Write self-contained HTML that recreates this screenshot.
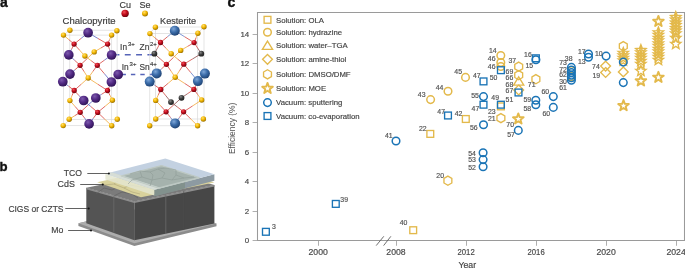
<!DOCTYPE html>
<html><head><meta charset="utf-8"><style>
html,body{margin:0;padding:0;background:#fff;width:685px;height:268px;overflow:hidden}
svg{display:block;will-change:transform}
text{font-family:"Liberation Sans", sans-serif}
</style></head><body>
<svg width="685" height="268" viewBox="0 0 685 268">
<defs>
<radialGradient id="gP" cx="0.38" cy="0.32" r="0.7"><stop offset="0" stop-color="#7d5aad"/><stop offset="0.5" stop-color="#522a84"/><stop offset="1" stop-color="#2f1455"/></radialGradient>
<radialGradient id="gB" cx="0.38" cy="0.32" r="0.7"><stop offset="0" stop-color="#7fa7d8"/><stop offset="0.5" stop-color="#3a6ba8"/><stop offset="1" stop-color="#1f4272"/></radialGradient>
<radialGradient id="gR" cx="0.38" cy="0.32" r="0.7"><stop offset="0" stop-color="#f05058"/><stop offset="0.5" stop-color="#c20a1a"/><stop offset="1" stop-color="#6a0610"/></radialGradient>
<radialGradient id="gY" cx="0.38" cy="0.32" r="0.7"><stop offset="0" stop-color="#ffe070"/><stop offset="0.5" stop-color="#f2b600"/><stop offset="1" stop-color="#9a7000"/></radialGradient>
<radialGradient id="gK" cx="0.38" cy="0.32" r="0.7"><stop offset="0" stop-color="#8a8a8a"/><stop offset="0.5" stop-color="#3c3c3c"/><stop offset="1" stop-color="#1e1e1e"/></radialGradient>
</defs>
<text x="0.00" y="7.10" font-size="14" text-anchor="start" fill="#111" font-weight="bold" stroke="#111" stroke-width="0.35">a</text>
<text x="227.50" y="7.10" font-size="14" text-anchor="start" fill="#111" font-weight="bold" stroke="#111" stroke-width="0.35">c</text>
<text x="-0.60" y="171.40" font-size="13.2" text-anchor="start" fill="#111" font-weight="bold" stroke="#111" stroke-width="0.35">b</text>
<text x="119.50" y="7.80" font-size="9.0" text-anchor="start" fill="#3e3e3e" font-weight="normal"  stroke="#3e3e3e" stroke-width="0.18">Cu</text>
<text x="139.50" y="7.80" font-size="9.0" text-anchor="start" fill="#3e3e3e" font-weight="normal"  stroke="#3e3e3e" stroke-width="0.18">Se</text>
<circle cx="125.1" cy="13.4" r="3.7" fill="url(#gR)"/>
<circle cx="145" cy="13.4" r="3" fill="url(#gY)"/>
<text x="62.60" y="24.00" font-size="9.55" text-anchor="start" fill="#3e3e3e" font-weight="normal"  stroke="#3e3e3e" stroke-width="0.18">Chalcopyrite</text>
<text x="160.10" y="23.90" font-size="9.15" text-anchor="start" fill="#3e3e3e" font-weight="normal"  stroke="#3e3e3e" stroke-width="0.18">Kesterite</text>
<line x1="113.5" y1="54.7" x2="153" y2="54.7" stroke="#5664b8" stroke-width="1.6" stroke-dasharray="5.9 5.4"/>
<line x1="121.5" y1="74.4" x2="153" y2="74.4" stroke="#5664b8" stroke-width="1.5" stroke-dasharray="4.4 5"/>
<g stroke="#d9d9d9" stroke-width="0.7" fill="none">
<rect x="63.4" y="35.1" width="48.300000000000004" height="90.6"/>
<rect x="69.8" y="30.2" width="47.3" height="89.1"/>
<line x1="63.4" y1="35.1" x2="69.8" y2="30.2"/>
<line x1="111.7" y1="35.1" x2="117.1" y2="30.2"/>
<line x1="63.4" y1="125.7" x2="69.8" y2="119.3"/>
<line x1="111.7" y1="125.7" x2="117.1" y2="119.3"/>
</g>
<g stroke-width="0.8">
<line x1="74.1" y1="44.1" x2="68.80" y2="39.60" stroke="#d8443c"/>
<line x1="68.80" y1="39.60" x2="63.5" y2="35.1" stroke="#f2a93a"/>
<line x1="74.1" y1="44.1" x2="81.10" y2="38.40" stroke="#d8443c"/>
<line x1="81.10" y1="38.40" x2="88.1" y2="32.7" stroke="#5a62c0"/>
<line x1="74.1" y1="44.1" x2="79.50" y2="50.05" stroke="#d8443c"/>
<line x1="79.50" y1="50.05" x2="84.9" y2="56" stroke="#f2a93a"/>
<line x1="74.1" y1="44.1" x2="71.45" y2="49.50" stroke="#d8443c"/>
<line x1="71.45" y1="49.50" x2="68.8" y2="54.9" stroke="#5a62c0"/>
<line x1="107.6" y1="44.1" x2="109.60" y2="39.60" stroke="#d8443c"/>
<line x1="109.60" y1="39.60" x2="111.6" y2="35.1" stroke="#f2a93a"/>
<line x1="107.6" y1="44.1" x2="97.85" y2="38.40" stroke="#d8443c"/>
<line x1="97.85" y1="38.40" x2="88.1" y2="32.7" stroke="#5a62c0"/>
<line x1="107.6" y1="44.1" x2="100.90" y2="48.00" stroke="#d8443c"/>
<line x1="100.90" y1="48.00" x2="94.2" y2="51.9" stroke="#f2a93a"/>
<line x1="107.6" y1="44.1" x2="109.60" y2="49.55" stroke="#d8443c"/>
<line x1="109.60" y1="49.55" x2="111.6" y2="55" stroke="#5a62c0"/>
<line x1="80.1" y1="65.3" x2="74.45" y2="60.10" stroke="#d8443c"/>
<line x1="74.45" y1="60.10" x2="68.8" y2="54.9" stroke="#5a62c0"/>
<line x1="80.1" y1="65.3" x2="87.15" y2="58.60" stroke="#d8443c"/>
<line x1="87.15" y1="58.60" x2="94.2" y2="51.9" stroke="#f2a93a"/>
<line x1="80.1" y1="65.3" x2="75.05" y2="69.70" stroke="#d8443c"/>
<line x1="75.05" y1="69.70" x2="70" y2="74.1" stroke="#5a62c0"/>
<line x1="80.1" y1="65.3" x2="84.15" y2="71.65" stroke="#d8443c"/>
<line x1="84.15" y1="71.65" x2="88.2" y2="78" stroke="#f2a93a"/>
<line x1="97.3" y1="65.3" x2="91.10" y2="60.65" stroke="#d8443c"/>
<line x1="91.10" y1="60.65" x2="84.9" y2="56" stroke="#f2a93a"/>
<line x1="97.3" y1="65.3" x2="104.45" y2="60.15" stroke="#d8443c"/>
<line x1="104.45" y1="60.15" x2="111.6" y2="55" stroke="#5a62c0"/>
<line x1="97.3" y1="65.3" x2="92.75" y2="71.65" stroke="#d8443c"/>
<line x1="92.75" y1="71.65" x2="88.2" y2="78" stroke="#f2a93a"/>
<line x1="97.3" y1="65.3" x2="104.35" y2="73.65" stroke="#d8443c"/>
<line x1="104.35" y1="73.65" x2="111.4" y2="82" stroke="#5a62c0"/>
<line x1="74.2" y1="90.5" x2="68.50" y2="86.10" stroke="#d8443c"/>
<line x1="68.50" y1="86.10" x2="62.8" y2="81.7" stroke="#5a62c0"/>
<line x1="74.2" y1="90.5" x2="81.20" y2="84.25" stroke="#d8443c"/>
<line x1="81.20" y1="84.25" x2="88.2" y2="78" stroke="#f2a93a"/>
<line x1="74.2" y1="90.5" x2="72.05" y2="95.55" stroke="#d8443c"/>
<line x1="72.05" y1="95.55" x2="69.9" y2="100.6" stroke="#f2a93a"/>
<line x1="74.2" y1="90.5" x2="78.95" y2="95.50" stroke="#d8443c"/>
<line x1="78.95" y1="95.50" x2="83.7" y2="100.5" stroke="#5a62c0"/>
<line x1="107.5" y1="90.5" x2="109.45" y2="86.25" stroke="#d8443c"/>
<line x1="109.45" y1="86.25" x2="111.4" y2="82" stroke="#5a62c0"/>
<line x1="107.5" y1="90.5" x2="97.85" y2="84.25" stroke="#d8443c"/>
<line x1="97.85" y1="84.25" x2="88.2" y2="78" stroke="#f2a93a"/>
<line x1="107.5" y1="90.5" x2="101.65" y2="94.25" stroke="#d8443c"/>
<line x1="101.65" y1="94.25" x2="95.8" y2="98" stroke="#5a62c0"/>
<line x1="107.5" y1="90.5" x2="109.95" y2="95.35" stroke="#d8443c"/>
<line x1="109.95" y1="95.35" x2="112.4" y2="100.2" stroke="#f2a93a"/>
<line x1="80.2" y1="112.3" x2="75.05" y2="106.45" stroke="#d8443c"/>
<line x1="75.05" y1="106.45" x2="69.9" y2="100.6" stroke="#f2a93a"/>
<line x1="80.2" y1="112.3" x2="88.00" y2="105.15" stroke="#d8443c"/>
<line x1="88.00" y1="105.15" x2="95.8" y2="98" stroke="#5a62c0"/>
<line x1="80.2" y1="112.3" x2="74.70" y2="115.75" stroke="#d8443c"/>
<line x1="74.70" y1="115.75" x2="69.2" y2="119.2" stroke="#f2a93a"/>
<line x1="80.2" y1="112.3" x2="84.65" y2="118.10" stroke="#d8443c"/>
<line x1="84.65" y1="118.10" x2="89.1" y2="123.9" stroke="#5a62c0"/>
<line x1="97.7" y1="112.4" x2="90.70" y2="106.45" stroke="#d8443c"/>
<line x1="90.70" y1="106.45" x2="83.7" y2="100.5" stroke="#5a62c0"/>
<line x1="97.7" y1="112.4" x2="105.05" y2="106.30" stroke="#d8443c"/>
<line x1="105.05" y1="106.30" x2="112.4" y2="100.2" stroke="#f2a93a"/>
<line x1="97.7" y1="112.4" x2="104.70" y2="119.10" stroke="#d8443c"/>
<line x1="104.70" y1="119.10" x2="111.7" y2="125.8" stroke="#f2a93a"/>
<line x1="97.7" y1="112.4" x2="93.40" y2="118.15" stroke="#d8443c"/>
<line x1="93.40" y1="118.15" x2="89.1" y2="123.9" stroke="#5a62c0"/>
</g>
<circle cx="63.5" cy="35.1" r="2.7" fill="url(#gY)"/>
<circle cx="69.9" cy="30.2" r="2.7" fill="url(#gY)"/>
<circle cx="111.6" cy="35.1" r="2.7" fill="url(#gY)"/>
<circle cx="116.9" cy="30.7" r="2.7" fill="url(#gY)"/>
<circle cx="94.2" cy="51.9" r="2.7" fill="url(#gY)"/>
<circle cx="84.9" cy="56" r="2.7" fill="url(#gY)"/>
<circle cx="88.2" cy="78" r="2.7" fill="url(#gY)"/>
<circle cx="69.9" cy="100.6" r="2.7" fill="url(#gY)"/>
<circle cx="112.4" cy="100.2" r="2.7" fill="url(#gY)"/>
<circle cx="69.2" cy="119.2" r="2.7" fill="url(#gY)"/>
<circle cx="63.2" cy="125.6" r="2.7" fill="url(#gY)"/>
<circle cx="117.3" cy="119.3" r="2.7" fill="url(#gY)"/>
<circle cx="111.7" cy="125.8" r="2.7" fill="url(#gY)"/>
<circle cx="74.1" cy="44.1" r="2.65" fill="url(#gR)"/>
<circle cx="107.6" cy="44.1" r="2.65" fill="url(#gR)"/>
<circle cx="80.1" cy="65.3" r="2.65" fill="url(#gR)"/>
<circle cx="97.3" cy="65.3" r="2.65" fill="url(#gR)"/>
<circle cx="74.2" cy="90.5" r="2.65" fill="url(#gR)"/>
<circle cx="107.5" cy="90.5" r="2.65" fill="url(#gR)"/>
<circle cx="80.2" cy="112.3" r="2.65" fill="url(#gR)"/>
<circle cx="97.7" cy="112.4" r="2.65" fill="url(#gR)"/>
<circle cx="88.1" cy="32.7" r="4.85" fill="url(#gP)"/>
<circle cx="68.8" cy="54.9" r="4.85" fill="url(#gP)"/>
<circle cx="111.6" cy="55" r="4.85" fill="url(#gP)"/>
<circle cx="70" cy="74.1" r="4.85" fill="url(#gP)"/>
<circle cx="118.2" cy="74.5" r="4.85" fill="url(#gP)"/>
<circle cx="62.8" cy="81.7" r="4.85" fill="url(#gP)"/>
<circle cx="111.4" cy="82" r="4.85" fill="url(#gP)"/>
<circle cx="83.7" cy="100.5" r="4.85" fill="url(#gP)"/>
<circle cx="95.8" cy="98" r="4.85" fill="url(#gP)"/>
<circle cx="89.1" cy="123.9" r="4.85" fill="url(#gP)"/>
<g stroke="#d9d9d9" stroke-width="0.7" fill="none">
<rect x="149.8" y="33.4" width="47.89999999999998" height="92.4"/>
<rect x="155.5" y="27" width="48.5" height="92"/>
<line x1="149.8" y1="33.4" x2="155.5" y2="27"/>
<line x1="197.7" y1="33.4" x2="204" y2="27"/>
<line x1="149.8" y1="125.8" x2="155.5" y2="119"/>
<line x1="197.7" y1="125.8" x2="204" y2="119"/>
</g>
<g stroke-width="0.8">
<line x1="160.5" y1="42.5" x2="155.20" y2="38.05" stroke="#d8443c"/>
<line x1="155.20" y1="38.05" x2="149.9" y2="33.6" stroke="#f2a93a"/>
<line x1="160.5" y1="42.5" x2="167.65" y2="36.60" stroke="#d8443c"/>
<line x1="167.65" y1="36.60" x2="174.8" y2="30.7" stroke="#5a7ac8"/>
<line x1="160.5" y1="42.5" x2="165.85" y2="48.10" stroke="#d8443c"/>
<line x1="165.85" y1="48.10" x2="171.2" y2="53.7" stroke="#f2a93a"/>
<line x1="160.5" y1="42.5" x2="157.45" y2="48.10" stroke="#d8443c"/>
<line x1="157.45" y1="48.10" x2="154.4" y2="53.7" stroke="#8a4a4a"/>
<line x1="194.1" y1="42.6" x2="196.00" y2="37.90" stroke="#d8443c"/>
<line x1="196.00" y1="37.90" x2="197.9" y2="33.2" stroke="#f2a93a"/>
<line x1="194.1" y1="42.6" x2="184.45" y2="36.65" stroke="#d8443c"/>
<line x1="184.45" y1="36.65" x2="174.8" y2="30.7" stroke="#5a7ac8"/>
<line x1="194.1" y1="42.6" x2="187.40" y2="46.50" stroke="#d8443c"/>
<line x1="187.40" y1="46.50" x2="180.7" y2="50.4" stroke="#f2a93a"/>
<line x1="194.1" y1="42.6" x2="197.70" y2="48.15" stroke="#d8443c"/>
<line x1="197.70" y1="48.15" x2="201.3" y2="53.7" stroke="#8a4a4a"/>
<line x1="166.4" y1="64.3" x2="160.40" y2="59.00" stroke="#d8443c"/>
<line x1="160.40" y1="59.00" x2="154.4" y2="53.7" stroke="#8a4a4a"/>
<line x1="166.4" y1="64.3" x2="173.55" y2="57.35" stroke="#d8443c"/>
<line x1="173.55" y1="57.35" x2="180.7" y2="50.4" stroke="#f2a93a"/>
<line x1="166.4" y1="64.3" x2="161.55" y2="68.85" stroke="#d8443c"/>
<line x1="161.55" y1="68.85" x2="156.7" y2="73.4" stroke="#5a7ac8"/>
<line x1="166.4" y1="64.3" x2="170.80" y2="70.80" stroke="#d8443c"/>
<line x1="170.80" y1="70.80" x2="175.2" y2="77.3" stroke="#f2a93a"/>
<line x1="183.8" y1="64.2" x2="177.50" y2="58.95" stroke="#d8443c"/>
<line x1="177.50" y1="58.95" x2="171.2" y2="53.7" stroke="#f2a93a"/>
<line x1="183.8" y1="64.2" x2="192.55" y2="58.95" stroke="#d8443c"/>
<line x1="192.55" y1="58.95" x2="201.3" y2="53.7" stroke="#8a4a4a"/>
<line x1="183.8" y1="64.2" x2="179.50" y2="70.75" stroke="#d8443c"/>
<line x1="179.50" y1="70.75" x2="175.2" y2="77.3" stroke="#f2a93a"/>
<line x1="183.8" y1="64.2" x2="190.85" y2="72.65" stroke="#d8443c"/>
<line x1="190.85" y1="72.65" x2="197.9" y2="81.1" stroke="#5a7ac8"/>
<line x1="160.8" y1="89.5" x2="155.25" y2="85.55" stroke="#d8443c"/>
<line x1="155.25" y1="85.55" x2="149.7" y2="81.6" stroke="#5a7ac8"/>
<line x1="160.8" y1="89.5" x2="168.00" y2="83.40" stroke="#d8443c"/>
<line x1="168.00" y1="83.40" x2="175.2" y2="77.3" stroke="#f2a93a"/>
<line x1="160.8" y1="89.5" x2="158.25" y2="94.95" stroke="#d8443c"/>
<line x1="158.25" y1="94.95" x2="155.7" y2="100.4" stroke="#f2a93a"/>
<line x1="160.8" y1="89.5" x2="165.90" y2="95.80" stroke="#d8443c"/>
<line x1="165.90" y1="95.80" x2="171" y2="102.1" stroke="#8a4a4a"/>
<line x1="193.9" y1="89.4" x2="195.90" y2="85.25" stroke="#d8443c"/>
<line x1="195.90" y1="85.25" x2="197.9" y2="81.1" stroke="#5a7ac8"/>
<line x1="193.9" y1="89.4" x2="184.55" y2="83.35" stroke="#d8443c"/>
<line x1="184.55" y1="83.35" x2="175.2" y2="77.3" stroke="#f2a93a"/>
<line x1="193.9" y1="89.4" x2="187.70" y2="93.60" stroke="#d8443c"/>
<line x1="187.70" y1="93.60" x2="181.5" y2="97.8" stroke="#8a4a4a"/>
<line x1="193.9" y1="89.4" x2="197.80" y2="94.70" stroke="#d8443c"/>
<line x1="197.80" y1="94.70" x2="201.7" y2="100" stroke="#f2a93a"/>
<line x1="166.1" y1="111.8" x2="160.90" y2="106.10" stroke="#d8443c"/>
<line x1="160.90" y1="106.10" x2="155.7" y2="100.4" stroke="#f2a93a"/>
<line x1="166.1" y1="111.8" x2="173.80" y2="104.80" stroke="#d8443c"/>
<line x1="173.80" y1="104.80" x2="181.5" y2="97.8" stroke="#8a4a4a"/>
<line x1="166.1" y1="111.8" x2="160.90" y2="115.40" stroke="#d8443c"/>
<line x1="160.90" y1="115.40" x2="155.7" y2="119" stroke="#f2a93a"/>
<line x1="166.1" y1="111.8" x2="170.60" y2="117.60" stroke="#d8443c"/>
<line x1="170.60" y1="117.60" x2="175.1" y2="123.4" stroke="#5a7ac8"/>
<line x1="183.6" y1="111.8" x2="177.30" y2="106.95" stroke="#d8443c"/>
<line x1="177.30" y1="106.95" x2="171" y2="102.1" stroke="#8a4a4a"/>
<line x1="183.6" y1="111.8" x2="192.65" y2="105.90" stroke="#d8443c"/>
<line x1="192.65" y1="105.90" x2="201.7" y2="100" stroke="#f2a93a"/>
<line x1="183.6" y1="111.8" x2="190.60" y2="118.80" stroke="#d8443c"/>
<line x1="190.60" y1="118.80" x2="197.6" y2="125.8" stroke="#f2a93a"/>
<line x1="183.6" y1="111.8" x2="179.35" y2="117.60" stroke="#d8443c"/>
<line x1="179.35" y1="117.60" x2="175.1" y2="123.4" stroke="#5a7ac8"/>
</g>
<circle cx="155.4" cy="27.2" r="2.7" fill="url(#gY)"/>
<circle cx="149.9" cy="33.6" r="2.7" fill="url(#gY)"/>
<circle cx="204" cy="26.7" r="2.7" fill="url(#gY)"/>
<circle cx="197.9" cy="33.2" r="2.7" fill="url(#gY)"/>
<circle cx="171.2" cy="53.7" r="2.7" fill="url(#gY)"/>
<circle cx="180.7" cy="50.4" r="2.7" fill="url(#gY)"/>
<circle cx="175.2" cy="77.3" r="2.7" fill="url(#gY)"/>
<circle cx="155.7" cy="100.4" r="2.7" fill="url(#gY)"/>
<circle cx="201.7" cy="100" r="2.7" fill="url(#gY)"/>
<circle cx="155.7" cy="119" r="2.7" fill="url(#gY)"/>
<circle cx="203.4" cy="119" r="2.7" fill="url(#gY)"/>
<circle cx="149.7" cy="125.8" r="2.7" fill="url(#gY)"/>
<circle cx="197.6" cy="125.8" r="2.7" fill="url(#gY)"/>
<circle cx="160.5" cy="42.5" r="2.65" fill="url(#gR)"/>
<circle cx="194.1" cy="42.6" r="2.65" fill="url(#gR)"/>
<circle cx="166.4" cy="64.3" r="2.65" fill="url(#gR)"/>
<circle cx="183.8" cy="64.2" r="2.65" fill="url(#gR)"/>
<circle cx="160.8" cy="89.5" r="2.65" fill="url(#gR)"/>
<circle cx="193.9" cy="89.4" r="2.65" fill="url(#gR)"/>
<circle cx="166.1" cy="111.8" r="2.65" fill="url(#gR)"/>
<circle cx="183.6" cy="111.8" r="2.65" fill="url(#gR)"/>
<circle cx="154.4" cy="53.7" r="2.9" fill="url(#gK)"/>
<circle cx="201.3" cy="53.7" r="2.9" fill="url(#gK)"/>
<circle cx="171" cy="102.1" r="2.9" fill="url(#gK)"/>
<circle cx="181.5" cy="97.8" r="2.9" fill="url(#gK)"/>
<circle cx="174.8" cy="30.7" r="5.0" fill="url(#gB)"/>
<circle cx="156.7" cy="73.4" r="5.0" fill="url(#gB)"/>
<circle cx="149.7" cy="81.6" r="5.0" fill="url(#gB)"/>
<circle cx="204.9" cy="73.6" r="5.0" fill="url(#gB)"/>
<circle cx="197.9" cy="81.1" r="5.0" fill="url(#gB)"/>
<circle cx="175.1" cy="123.4" r="5.0" fill="url(#gB)"/>
<text x="120.10" y="49.70" font-size="8.3" text-anchor="start" fill="#444" font-weight="normal"  stroke="#444" stroke-width="0.18">In</text>
<text x="127.90" y="46.40" font-size="6.0" text-anchor="start" fill="#444" font-weight="normal"  stroke="#444" stroke-width="0.18">3+</text>
<text x="139.60" y="49.70" font-size="8.3" text-anchor="start" fill="#444" font-weight="normal"  stroke="#444" stroke-width="0.18">Zn</text>
<text x="150.00" y="46.40" font-size="6.0" text-anchor="start" fill="#444" font-weight="normal"  stroke="#444" stroke-width="0.18">2+</text>
<text x="121.80" y="69.60" font-size="8.3" text-anchor="start" fill="#444" font-weight="normal"  stroke="#444" stroke-width="0.18">In</text>
<text x="129.60" y="66.30" font-size="6.0" text-anchor="start" fill="#444" font-weight="normal"  stroke="#444" stroke-width="0.18">3+</text>
<text x="139.50" y="69.60" font-size="8.3" text-anchor="start" fill="#444" font-weight="normal"  stroke="#444" stroke-width="0.18">Sn</text>
<text x="150.00" y="66.30" font-size="6.0" text-anchor="start" fill="#444" font-weight="normal"  stroke="#444" stroke-width="0.18">4+</text>
<g>
<polygon points="78.4,223.3 150,206 216.5,223.6 216.5,226.2 134.4,245.9 78.4,225.9" fill="#8c8c8c"/>
<polygon points="78.4,223.3 150,206 216.5,223.6 134.4,243.3" fill="#adadad"/>
<polygon points="86.3,187.7 134.4,201.4 134.4,240.2 86.3,223.3" fill="#545454"/>
<polygon points="134.4,201.4 214.4,184.9 214.4,223.6 134.4,240.2" fill="#474747"/>
<polygon points="86.3,187.7 166.3,171.2 214.4,184.9 134.4,201.4" fill="#7b7b7b"/>
<polyline points="86.3,188.6 134.4,202.3 214.4,185.8" fill="none" stroke="#8e8e8e" stroke-width="1.6"/>
<line x1="113.8" y1="195.5" x2="113.8" y2="232.5" stroke="#6e6e6e" stroke-width="0.7"/>
<line x1="165.8" y1="195" x2="165.8" y2="233.8" stroke="#707070" stroke-width="0.7"/>
<line x1="183.7" y1="191.2" x2="183.7" y2="230" stroke="#4e4e4e" stroke-width="0.6"/>
<polyline points="96,194 104,188 112,190 120,186" fill="none" stroke="#5e5e5e" stroke-width="0.6"/>
<polyline points="113.8,196 122,192 132,194 138,198" fill="none" stroke="#5e5e5e" stroke-width="0.6"/>
<polygon points="97.2,182.3 166.3,166.8 214.4,182.4 141,197.3" fill="#d9d29c"/>
<polyline points="104,185 114,184 124,188 132,192 140,194" fill="none" stroke="#a8a074" stroke-width="0.55"/>
<polyline points="114,184 118,181" fill="none" stroke="#a8a074" stroke-width="0.55"/>
<polyline points="124,188 130,185 146,188" fill="none" stroke="#a8a074" stroke-width="0.55"/>
<polygon points="105.4,173.8 154.5,189.7 154.5,195.5 105.4,179.6" fill="#e4e6d0" opacity="0.85"/>
<polygon points="154.5,189.7 214.4,174.3 214.4,180.8 154.5,196.2" fill="#8d9aa2"/>
<polygon points="154.5,189.7 185,181.9 185,188.4 154.5,196.2" fill="#7f8e88" opacity="0.8"/>
<polygon points="105.4,173.8 165.3,158.4 214.4,174.3 154.5,189.7" fill="#c3d1e1"/>
<polygon points="105.4,173.8 154.5,189.7 160.8,188.1 111.7,172.2" fill="#d6ddd6"/>
<polygon points="121.5,175.9 161.5,165.6 199.0,177.7 159.0,188.0" fill="#a5b2ad" stroke="#bdc8c3" stroke-width="1.4" stroke-linejoin="round"/>
<polygon points="111.7,172.2 121.5,175.9 159.0,188.0 160.8,188.1" fill="#c8d2cc"/>
<g fill="none" stroke="#8e9c97" stroke-width="0.6">
<polyline points="130,174 140,171 150,172 158,169 166,168 176,170"/>
<polyline points="140,171 142,177 152,180 162,178 172,180 184,178 194,177"/>
<polyline points="150,172 153,175 152,180"/>
<polyline points="162,178 165,173 158,169"/>
<polyline points="172,180 176,175 184,178"/>
<polyline points="142,177 132,180 128,184"/>
<polyline points="176,175 176,170"/>
<polyline points="152,180 150,186"/>
</g>
</g>
<text x="63.80" y="176.10" font-size="9.0" text-anchor="start" fill="#444" font-weight="normal"  textLength="18.2" lengthAdjust="spacingAndGlyphs" stroke="#444" stroke-width="0.18">TCO</text>
<text x="57.60" y="187.30" font-size="9.0" text-anchor="start" fill="#444" font-weight="normal"  textLength="17.3" lengthAdjust="spacingAndGlyphs" stroke="#444" stroke-width="0.18">CdS</text>
<text x="8.40" y="211.80" font-size="9.0" text-anchor="start" fill="#444" font-weight="normal"  textLength="55.1" lengthAdjust="spacingAndGlyphs" stroke="#444" stroke-width="0.18">CIGS or CZTS</text>
<text x="51.20" y="233.20" font-size="8.5" text-anchor="start" fill="#444" font-weight="normal"  textLength="12.1" lengthAdjust="spacingAndGlyphs" stroke="#444" stroke-width="0.18">Mo</text>
<g stroke="#3a3a3a" stroke-width="0.8">
<line x1="87.3" y1="173.5" x2="108.9" y2="173.5"/><line x1="80.2" y1="184.5" x2="102.8" y2="184.5"/>
<line x1="65.3" y1="208.5" x2="88.7" y2="208.5"/><line x1="68.1" y1="230.5" x2="91" y2="230.5"/>
</g>
<circle cx="108.9" cy="173.5" r="1" fill="#111"/>
<circle cx="102.8" cy="184.5" r="1" fill="#111"/>
<circle cx="88.7" cy="208.5" r="1" fill="#111"/>
<circle cx="91" cy="230.5" r="1" fill="#111"/>
<path d="M257.5,12.5 H684.5 V240.5 H257.5 Z" fill="none" stroke="#9a9a9a" stroke-width="1.05"/>
<line x1="252.6" y1="240.50" x2="257.5" y2="240.50" stroke="#9a9a9a" stroke-width="0.8"/>
<text x="249.20" y="243.45" font-size="7.9" text-anchor="end" fill="#4a4a4a" font-weight="normal"  stroke="#4a4a4a" stroke-width="0.18">0</text>
<line x1="252.6" y1="211.50" x2="257.5" y2="211.50" stroke="#9a9a9a" stroke-width="0.8"/>
<text x="249.20" y="213.95" font-size="7.9" text-anchor="end" fill="#4a4a4a" font-weight="normal"  stroke="#4a4a4a" stroke-width="0.18">2</text>
<line x1="252.6" y1="181.50" x2="257.5" y2="181.50" stroke="#9a9a9a" stroke-width="0.8"/>
<text x="249.20" y="184.45" font-size="7.9" text-anchor="end" fill="#4a4a4a" font-weight="normal"  stroke="#4a4a4a" stroke-width="0.18">4</text>
<line x1="252.6" y1="152.50" x2="257.5" y2="152.50" stroke="#9a9a9a" stroke-width="0.8"/>
<text x="249.20" y="154.95" font-size="7.9" text-anchor="end" fill="#4a4a4a" font-weight="normal"  stroke="#4a4a4a" stroke-width="0.18">6</text>
<line x1="252.6" y1="122.50" x2="257.5" y2="122.50" stroke="#9a9a9a" stroke-width="0.8"/>
<text x="249.20" y="125.45" font-size="7.9" text-anchor="end" fill="#4a4a4a" font-weight="normal"  stroke="#4a4a4a" stroke-width="0.18">8</text>
<line x1="252.6" y1="93.50" x2="257.5" y2="93.50" stroke="#9a9a9a" stroke-width="0.8"/>
<text x="249.20" y="95.95" font-size="7.9" text-anchor="end" fill="#4a4a4a" font-weight="normal"  stroke="#4a4a4a" stroke-width="0.18">10</text>
<line x1="252.6" y1="63.50" x2="257.5" y2="63.50" stroke="#9a9a9a" stroke-width="0.8"/>
<text x="249.20" y="66.45" font-size="7.9" text-anchor="end" fill="#4a4a4a" font-weight="normal"  stroke="#4a4a4a" stroke-width="0.18">12</text>
<line x1="252.6" y1="34.50" x2="257.5" y2="34.50" stroke="#9a9a9a" stroke-width="0.8"/>
<text x="249.20" y="36.95" font-size="7.9" text-anchor="end" fill="#4a4a4a" font-weight="normal"  stroke="#4a4a4a" stroke-width="0.18">14</text>
<line x1="318.5" y1="240.5" x2="318.5" y2="245.8" stroke="#9a9a9a" stroke-width="0.8"/>
<text x="318.20" y="255.10" font-size="8.3" text-anchor="middle" fill="#4a4a4a" font-weight="normal"  textLength="19.3" lengthAdjust="spacingAndGlyphs" stroke="#4a4a4a" stroke-width="0.18">2000</text>
<line x1="396.5" y1="240.5" x2="396.5" y2="245.8" stroke="#9a9a9a" stroke-width="0.8"/>
<text x="396.00" y="255.10" font-size="8.3" text-anchor="middle" fill="#4a4a4a" font-weight="normal"  textLength="19.3" lengthAdjust="spacingAndGlyphs" stroke="#4a4a4a" stroke-width="0.18">2008</text>
<line x1="466.5" y1="240.5" x2="466.5" y2="245.8" stroke="#9a9a9a" stroke-width="0.8"/>
<text x="466.10" y="255.10" font-size="8.3" text-anchor="middle" fill="#4a4a4a" font-weight="normal"  textLength="17.2" lengthAdjust="spacingAndGlyphs" stroke="#4a4a4a" stroke-width="0.18">2012</text>
<line x1="536.5" y1="240.5" x2="536.5" y2="245.8" stroke="#9a9a9a" stroke-width="0.8"/>
<text x="536.10" y="255.10" font-size="8.3" text-anchor="middle" fill="#4a4a4a" font-weight="normal"  textLength="17.2" lengthAdjust="spacingAndGlyphs" stroke="#4a4a4a" stroke-width="0.18">2016</text>
<line x1="606.5" y1="240.5" x2="606.5" y2="245.8" stroke="#9a9a9a" stroke-width="0.8"/>
<text x="606.10" y="255.10" font-size="8.3" text-anchor="middle" fill="#4a4a4a" font-weight="normal"  textLength="19.3" lengthAdjust="spacingAndGlyphs" stroke="#4a4a4a" stroke-width="0.18">2020</text>
<line x1="676.5" y1="240.5" x2="676.5" y2="245.8" stroke="#9a9a9a" stroke-width="0.8"/>
<text x="676.10" y="255.10" font-size="8.3" text-anchor="middle" fill="#4a4a4a" font-weight="normal"  textLength="19.3" lengthAdjust="spacingAndGlyphs" stroke="#4a4a4a" stroke-width="0.18">2024</text>
<line x1="376.2" y1="245.6" x2="383.8" y2="236.3" stroke="#606060" stroke-width="0.9"/>
<line x1="383.6" y1="245.6" x2="390.9" y2="236.3" stroke="#606060" stroke-width="0.9"/>
<text x="467.30" y="267.80" font-size="8.6" text-anchor="middle" fill="#444" font-weight="normal"  textLength="17.6" lengthAdjust="spacingAndGlyphs" stroke="#444" stroke-width="0.18">Year</text>
<text x="0.00" y="0.00" font-size="8.45" text-anchor="middle" fill="#505050" font-weight="normal" stroke="none" transform="translate(235.3,128.4) rotate(-90)">Efficiency (%)</text>
<rect x="264.10" y="16.40" width="6.80" height="6.80" fill="none" stroke="#e3b94b" stroke-width="1.35"/>
<text x="276.10" y="22.60" font-size="7.75" text-anchor="start" fill="#444" font-weight="normal"  stroke="#444" stroke-width="0.18">Solution: OLA</text>
<circle cx="267.50" cy="32.30" r="3.8" fill="none" stroke="#e3b94b" stroke-width="1.5"/>
<text x="276.10" y="35.10" font-size="7.75" text-anchor="start" fill="#444" font-weight="normal"  stroke="#444" stroke-width="0.18">Solution: hydrazine</text>
<path d="M267.50,41.10 L272.60,49.30 L262.40,49.30Z" fill="none" stroke="#e3b94b" stroke-width="1.35" stroke-linejoin="miter"/>
<text x="276.10" y="48.20" font-size="7.75" text-anchor="start" fill="#444" font-weight="normal"  stroke="#444" stroke-width="0.18">Solution: water–TGA</text>
<path d="M267.50,54.40 L272.40,59.30 L267.50,64.20 L262.60,59.30Z" fill="none" stroke="#e3b94b" stroke-width="1.35"/>
<text x="276.10" y="62.10" font-size="7.75" text-anchor="start" fill="#444" font-weight="normal"  stroke="#444" stroke-width="0.18">Solution: amine-thiol</text>
<path d="M267.50,69.75 L271.44,72.02 L271.44,76.58 L267.50,78.85 L263.56,76.58 L263.56,72.02Z" fill="none" stroke="#e3b94b" stroke-width="1.35"/>
<text x="276.10" y="77.10" font-size="7.75" text-anchor="start" fill="#444" font-weight="normal"  stroke="#444" stroke-width="0.18">Solution: DMSO/DMF</text>
<path d="M267.50,82.90 L268.85,86.64 L272.83,86.77 L269.69,89.21 L270.79,93.03 L267.50,90.80 L264.21,93.03 L265.31,89.21 L262.17,86.77 L266.15,86.64Z" fill="none" stroke="#e3b94b" stroke-width="1.9" stroke-linejoin="round"/>
<text x="276.10" y="91.30" font-size="7.75" text-anchor="start" fill="#444" font-weight="normal"  stroke="#444" stroke-width="0.18">Solution: MOE</text>
<circle cx="267.50" cy="102.60" r="3.8" fill="none" stroke="#1a74b6" stroke-width="1.5"/>
<text x="276.10" y="105.40" font-size="7.75" text-anchor="start" fill="#444" font-weight="normal"  stroke="#444" stroke-width="0.18">Vacuum: sputtering</text>
<rect x="264.10" y="112.60" width="6.80" height="6.80" fill="none" stroke="#1a74b6" stroke-width="1.35"/>
<text x="276.10" y="118.80" font-size="7.75" text-anchor="start" fill="#444" font-weight="normal"  stroke="#444" stroke-width="0.18">Vacuum: co-evaporation</text>
<rect x="409.80" y="226.80" width="6.80" height="6.80" fill="none" stroke="#e3b94b" stroke-width="1.35"/>
<rect x="426.90" y="130.50" width="6.80" height="6.80" fill="none" stroke="#e3b94b" stroke-width="1.35"/>
<rect x="462.40" y="115.60" width="6.80" height="6.80" fill="none" stroke="#e3b94b" stroke-width="1.35"/>
<circle cx="430.60" cy="99.60" r="3.8" fill="none" stroke="#e3b94b" stroke-width="1.5"/>
<circle cx="448.00" cy="91.30" r="3.8" fill="none" stroke="#e3b94b" stroke-width="1.5"/>
<circle cx="465.50" cy="77.40" r="3.8" fill="none" stroke="#e3b94b" stroke-width="1.5"/>
<circle cx="500.80" cy="55.50" r="3.8" fill="none" stroke="#e3b94b" stroke-width="1.5"/>
<circle cx="500.80" cy="62.50" r="3.8" fill="none" stroke="#e3b94b" stroke-width="1.5"/>
<circle cx="500.80" cy="66.50" r="3.8" fill="none" stroke="#e3b94b" stroke-width="1.5"/>
<path d="M518.70,76.90 L523.80,85.10 L513.60,85.10Z" fill="none" stroke="#e3b94b" stroke-width="1.35" stroke-linejoin="miter"/>
<path d="M518.70,85.10 L523.60,90.00 L518.70,94.90 L513.80,90.00Z" fill="none" stroke="#e3b94b" stroke-width="1.35"/>
<path d="M605.60,61.20 L610.50,66.10 L605.60,71.00 L600.70,66.10Z" fill="none" stroke="#e3b94b" stroke-width="1.35"/>
<path d="M605.60,67.60 L610.50,72.50 L605.60,77.40 L600.70,72.50Z" fill="none" stroke="#e3b94b" stroke-width="1.35"/>
<path d="M623.30,67.00 L628.20,71.90 L623.30,76.80 L618.40,71.90Z" fill="none" stroke="#e3b94b" stroke-width="1.35"/>
<path d="M447.90,176.15 L451.84,178.42 L451.84,182.97 L447.90,185.25 L443.96,182.97 L443.96,178.42Z" fill="none" stroke="#e3b94b" stroke-width="1.35"/>
<path d="M500.90,113.55 L504.84,115.82 L504.84,120.38 L500.90,122.65 L496.96,120.38 L496.96,115.82Z" fill="none" stroke="#e3b94b" stroke-width="1.35"/>
<rect x="497.50" y="103.00" width="6.80" height="6.80" fill="none" stroke="#e3b94b" stroke-width="1.35"/>
<path d="M518.70,62.05 L522.64,64.32 L522.64,68.88 L518.70,71.15 L514.76,68.88 L514.76,64.32Z" fill="none" stroke="#e3b94b" stroke-width="1.35"/>
<path d="M518.70,70.65 L522.64,72.92 L522.64,77.48 L518.70,79.75 L514.76,77.48 L514.76,72.92Z" fill="none" stroke="#e3b94b" stroke-width="1.35"/>
<path d="M535.90,74.65 L539.84,76.92 L539.84,81.48 L535.90,83.75 L531.96,81.48 L531.96,76.92Z" fill="none" stroke="#e3b94b" stroke-width="1.35"/>
<path d="M623.30,41.65 L627.24,43.93 L627.24,48.48 L623.30,50.75 L619.36,48.48 L619.36,43.93Z" fill="none" stroke="#e3b94b" stroke-width="1.35"/>
<path d="M518.30,113.40 L519.65,117.14 L523.63,117.27 L520.49,119.71 L521.59,123.53 L518.30,121.30 L515.01,123.53 L516.11,119.71 L512.97,117.27 L516.95,117.14Z" fill="none" stroke="#e3b94b" stroke-width="1.9" stroke-linejoin="round"/>
<path d="M623.30,47.50 L624.71,51.06 L628.53,51.30 L625.58,53.74 L626.53,57.45 L623.30,55.40 L620.07,57.45 L621.02,53.74 L618.07,51.30 L621.89,51.06Z" fill="none" stroke="#e3b94b" stroke-width="1.35" stroke-linejoin="miter"/>
<path d="M623.30,50.00 L624.71,53.56 L628.53,53.80 L625.58,56.24 L626.53,59.95 L623.30,57.90 L620.07,59.95 L621.02,56.24 L618.07,53.80 L621.89,53.56Z" fill="none" stroke="#e3b94b" stroke-width="1.35" stroke-linejoin="miter"/>
<path d="M623.30,52.50 L624.71,56.06 L628.53,56.30 L625.58,58.74 L626.53,62.45 L623.30,60.40 L620.07,62.45 L621.02,58.74 L618.07,56.30 L621.89,56.06Z" fill="none" stroke="#e3b94b" stroke-width="1.35" stroke-linejoin="miter"/>
<path d="M623.30,55.00 L624.71,58.56 L628.53,58.80 L625.58,61.24 L626.53,64.95 L623.30,62.90 L620.07,64.95 L621.02,61.24 L618.07,58.80 L621.89,58.56Z" fill="none" stroke="#e3b94b" stroke-width="1.35" stroke-linejoin="miter"/>
<path d="M623.50,100.10 L624.85,103.84 L628.83,103.97 L625.69,106.41 L626.79,110.23 L623.50,108.00 L620.21,110.23 L621.31,106.41 L618.17,103.97 L622.15,103.84Z" fill="none" stroke="#e3b94b" stroke-width="1.9" stroke-linejoin="round"/>
<path d="M640.90,44.70 L642.31,48.26 L646.13,48.50 L643.18,50.94 L644.13,54.65 L640.90,52.60 L637.67,54.65 L638.62,50.94 L635.67,48.50 L639.49,48.26Z" fill="none" stroke="#e3b94b" stroke-width="1.35" stroke-linejoin="miter"/>
<path d="M640.90,47.00 L642.31,50.56 L646.13,50.80 L643.18,53.24 L644.13,56.95 L640.90,54.90 L637.67,56.95 L638.62,53.24 L635.67,50.80 L639.49,50.56Z" fill="none" stroke="#e3b94b" stroke-width="1.35" stroke-linejoin="miter"/>
<path d="M640.90,50.00 L642.31,53.56 L646.13,53.80 L643.18,56.24 L644.13,59.95 L640.90,57.90 L637.67,59.95 L638.62,56.24 L635.67,53.80 L639.49,53.56Z" fill="none" stroke="#e3b94b" stroke-width="1.35" stroke-linejoin="miter"/>
<path d="M640.90,52.50 L642.31,56.06 L646.13,56.30 L643.18,58.74 L644.13,62.45 L640.90,60.40 L637.67,62.45 L638.62,58.74 L635.67,56.30 L639.49,56.06Z" fill="none" stroke="#e3b94b" stroke-width="1.35" stroke-linejoin="miter"/>
<path d="M640.90,55.50 L642.31,59.06 L646.13,59.30 L643.18,61.74 L644.13,65.45 L640.90,63.40 L637.67,65.45 L638.62,61.74 L635.67,59.30 L639.49,59.06Z" fill="none" stroke="#e3b94b" stroke-width="1.35" stroke-linejoin="miter"/>
<path d="M640.90,58.50 L642.31,62.06 L646.13,62.30 L643.18,64.74 L644.13,68.45 L640.90,66.40 L637.67,68.45 L638.62,64.74 L635.67,62.30 L639.49,62.06Z" fill="none" stroke="#e3b94b" stroke-width="1.35" stroke-linejoin="miter"/>
<path d="M640.90,65.50 L642.31,69.06 L646.13,69.30 L643.18,71.74 L644.13,75.45 L640.90,73.40 L637.67,75.45 L638.62,71.74 L635.67,69.30 L639.49,69.06Z" fill="none" stroke="#e3b94b" stroke-width="1.35" stroke-linejoin="miter"/>
<path d="M640.90,75.40 L642.25,79.14 L646.23,79.27 L643.09,81.71 L644.19,85.53 L640.90,83.30 L637.61,85.53 L638.71,81.71 L635.57,79.27 L639.55,79.14Z" fill="none" stroke="#e3b94b" stroke-width="1.9" stroke-linejoin="round"/>
<path d="M658.40,15.90 L659.75,19.64 L663.73,19.77 L660.59,22.21 L661.69,26.03 L658.40,23.80 L655.11,26.03 L656.21,22.21 L653.07,19.77 L657.05,19.64Z" fill="none" stroke="#e3b94b" stroke-width="1.9" stroke-linejoin="round"/>
<path d="M658.40,27.00 L659.81,30.56 L663.63,30.80 L660.68,33.24 L661.63,36.95 L658.40,34.90 L655.17,36.95 L656.12,33.24 L653.17,30.80 L656.99,30.56Z" fill="none" stroke="#e3b94b" stroke-width="1.35" stroke-linejoin="miter"/>
<path d="M658.40,29.50 L659.81,33.06 L663.63,33.30 L660.68,35.74 L661.63,39.45 L658.40,37.40 L655.17,39.45 L656.12,35.74 L653.17,33.30 L656.99,33.06Z" fill="none" stroke="#e3b94b" stroke-width="1.35" stroke-linejoin="miter"/>
<path d="M658.40,32.50 L659.81,36.06 L663.63,36.30 L660.68,38.74 L661.63,42.45 L658.40,40.40 L655.17,42.45 L656.12,38.74 L653.17,36.30 L656.99,36.06Z" fill="none" stroke="#e3b94b" stroke-width="1.35" stroke-linejoin="miter"/>
<path d="M658.40,35.00 L659.81,38.56 L663.63,38.80 L660.68,41.24 L661.63,44.95 L658.40,42.90 L655.17,44.95 L656.12,41.24 L653.17,38.80 L656.99,38.56Z" fill="none" stroke="#e3b94b" stroke-width="1.35" stroke-linejoin="miter"/>
<path d="M658.40,38.00 L659.81,41.56 L663.63,41.80 L660.68,44.24 L661.63,47.95 L658.40,45.90 L655.17,47.95 L656.12,44.24 L653.17,41.80 L656.99,41.56Z" fill="none" stroke="#e3b94b" stroke-width="1.35" stroke-linejoin="miter"/>
<path d="M658.40,40.50 L659.81,44.06 L663.63,44.30 L660.68,46.74 L661.63,50.45 L658.40,48.40 L655.17,50.45 L656.12,46.74 L653.17,44.30 L656.99,44.06Z" fill="none" stroke="#e3b94b" stroke-width="1.35" stroke-linejoin="miter"/>
<path d="M658.40,43.50 L659.81,47.06 L663.63,47.30 L660.68,49.74 L661.63,53.45 L658.40,51.40 L655.17,53.45 L656.12,49.74 L653.17,47.30 L656.99,47.06Z" fill="none" stroke="#e3b94b" stroke-width="1.35" stroke-linejoin="miter"/>
<path d="M658.40,46.00 L659.81,49.56 L663.63,49.80 L660.68,52.24 L661.63,55.95 L658.40,53.90 L655.17,55.95 L656.12,52.24 L653.17,49.80 L656.99,49.56Z" fill="none" stroke="#e3b94b" stroke-width="1.35" stroke-linejoin="miter"/>
<path d="M658.40,49.00 L659.81,52.56 L663.63,52.80 L660.68,55.24 L661.63,58.95 L658.40,56.90 L655.17,58.95 L656.12,55.24 L653.17,52.80 L656.99,52.56Z" fill="none" stroke="#e3b94b" stroke-width="1.35" stroke-linejoin="miter"/>
<path d="M658.40,51.50 L659.81,55.06 L663.63,55.30 L660.68,57.74 L661.63,61.45 L658.40,59.40 L655.17,61.45 L656.12,57.74 L653.17,55.30 L656.99,55.06Z" fill="none" stroke="#e3b94b" stroke-width="1.35" stroke-linejoin="miter"/>
<path d="M658.40,54.50 L659.81,58.06 L663.63,58.30 L660.68,60.74 L661.63,64.45 L658.40,62.40 L655.17,64.45 L656.12,60.74 L653.17,58.30 L656.99,58.06Z" fill="none" stroke="#e3b94b" stroke-width="1.35" stroke-linejoin="miter"/>
<path d="M658.40,71.80 L659.75,75.54 L663.73,75.67 L660.59,78.11 L661.69,81.93 L658.40,79.70 L655.11,81.93 L656.21,78.11 L653.07,75.67 L657.05,75.54Z" fill="none" stroke="#e3b94b" stroke-width="1.9" stroke-linejoin="round"/>
<path d="M675.80,11.70 L677.21,15.26 L681.03,15.50 L678.08,17.94 L679.03,21.65 L675.80,19.60 L672.57,21.65 L673.52,17.94 L670.57,15.50 L674.39,15.26Z" fill="none" stroke="#e3b94b" stroke-width="1.35" stroke-linejoin="miter"/>
<path d="M675.80,14.20 L677.21,17.76 L681.03,18.00 L678.08,20.44 L679.03,24.15 L675.80,22.10 L672.57,24.15 L673.52,20.44 L670.57,18.00 L674.39,17.76Z" fill="none" stroke="#e3b94b" stroke-width="1.35" stroke-linejoin="miter"/>
<path d="M675.80,17.20 L677.21,20.76 L681.03,21.00 L678.08,23.44 L679.03,27.15 L675.80,25.10 L672.57,27.15 L673.52,23.44 L670.57,21.00 L674.39,20.76Z" fill="none" stroke="#e3b94b" stroke-width="1.35" stroke-linejoin="miter"/>
<path d="M675.80,19.70 L677.21,23.26 L681.03,23.50 L678.08,25.94 L679.03,29.65 L675.80,27.60 L672.57,29.65 L673.52,25.94 L670.57,23.50 L674.39,23.26Z" fill="none" stroke="#e3b94b" stroke-width="1.35" stroke-linejoin="miter"/>
<path d="M675.80,22.70 L677.21,26.26 L681.03,26.50 L678.08,28.94 L679.03,32.65 L675.80,30.60 L672.57,32.65 L673.52,28.94 L670.57,26.50 L674.39,26.26Z" fill="none" stroke="#e3b94b" stroke-width="1.35" stroke-linejoin="miter"/>
<path d="M675.80,25.20 L677.21,28.76 L681.03,29.00 L678.08,31.44 L679.03,35.15 L675.80,33.10 L672.57,35.15 L673.52,31.44 L670.57,29.00 L674.39,28.76Z" fill="none" stroke="#e3b94b" stroke-width="1.35" stroke-linejoin="miter"/>
<path d="M675.80,28.00 L677.21,31.56 L681.03,31.80 L678.08,34.24 L679.03,37.95 L675.80,35.90 L672.57,37.95 L673.52,34.24 L670.57,31.80 L674.39,31.56Z" fill="none" stroke="#e3b94b" stroke-width="1.35" stroke-linejoin="miter"/>
<path d="M675.80,32.50 L677.21,36.06 L681.03,36.30 L678.08,38.74 L679.03,42.45 L675.80,40.40 L672.57,42.45 L673.52,38.74 L670.57,36.30 L674.39,36.06Z" fill="none" stroke="#e3b94b" stroke-width="1.35" stroke-linejoin="miter"/>
<path d="M675.80,38.50 L677.21,42.06 L681.03,42.30 L678.08,44.74 L679.03,48.45 L675.80,46.40 L672.57,48.45 L673.52,44.74 L670.57,42.30 L674.39,42.06Z" fill="none" stroke="#e3b94b" stroke-width="1.35" stroke-linejoin="miter"/>
<circle cx="571.40" cy="70.60" r="3.8" fill="none" stroke="#e3b94b" stroke-width="1.5"/>
<circle cx="571.40" cy="76.60" r="3.8" fill="none" stroke="#e3b94b" stroke-width="1.5"/>
<rect x="262.50" y="228.40" width="6.80" height="6.80" fill="none" stroke="#1a74b6" stroke-width="1.35"/>
<rect x="332.40" y="200.50" width="6.80" height="6.80" fill="none" stroke="#1a74b6" stroke-width="1.35"/>
<rect x="444.60" y="112.10" width="6.80" height="6.80" fill="none" stroke="#1a74b6" stroke-width="1.35"/>
<rect x="480.10" y="78.00" width="6.80" height="6.80" fill="none" stroke="#1a74b6" stroke-width="1.35"/>
<rect x="480.10" y="101.30" width="6.80" height="6.80" fill="none" stroke="#1a74b6" stroke-width="1.35"/>
<rect x="497.50" y="66.80" width="6.80" height="6.80" fill="none" stroke="#1a74b6" stroke-width="1.35"/>
<rect x="497.50" y="101.30" width="6.80" height="6.80" fill="none" stroke="#1a74b6" stroke-width="1.35"/>
<rect x="515.10" y="89.10" width="6.80" height="6.80" fill="none" stroke="#1a74b6" stroke-width="1.35"/>
<rect x="532.50" y="54.90" width="6.80" height="6.80" fill="none" stroke="#1a74b6" stroke-width="1.35"/>
<circle cx="396.00" cy="141.00" r="3.8" fill="none" stroke="#1a74b6" stroke-width="1.5"/>
<circle cx="483.50" cy="96.60" r="3.8" fill="none" stroke="#1a74b6" stroke-width="1.5"/>
<circle cx="483.50" cy="124.80" r="3.8" fill="none" stroke="#1a74b6" stroke-width="1.5"/>
<circle cx="483.10" cy="152.70" r="3.8" fill="none" stroke="#1a74b6" stroke-width="1.5"/>
<circle cx="483.10" cy="159.60" r="3.8" fill="none" stroke="#1a74b6" stroke-width="1.5"/>
<circle cx="483.10" cy="166.70" r="3.8" fill="none" stroke="#1a74b6" stroke-width="1.5"/>
<circle cx="518.30" cy="130.40" r="3.8" fill="none" stroke="#1a74b6" stroke-width="1.5"/>
<circle cx="535.80" cy="100.20" r="3.8" fill="none" stroke="#1a74b6" stroke-width="1.5"/>
<circle cx="535.80" cy="104.70" r="3.8" fill="none" stroke="#1a74b6" stroke-width="1.5"/>
<circle cx="553.30" cy="96.60" r="3.8" fill="none" stroke="#1a74b6" stroke-width="1.5"/>
<circle cx="553.30" cy="107.40" r="3.8" fill="none" stroke="#1a74b6" stroke-width="1.5"/>
<circle cx="535.90" cy="59.70" r="3.8" fill="none" stroke="#1a74b6" stroke-width="1.5"/>
<circle cx="588.50" cy="54.00" r="3.8" fill="none" stroke="#1a74b6" stroke-width="1.5"/>
<circle cx="588.50" cy="57.20" r="3.8" fill="none" stroke="#1a74b6" stroke-width="1.5"/>
<circle cx="606.10" cy="56.10" r="3.8" fill="none" stroke="#1a74b6" stroke-width="1.5"/>
<circle cx="623.30" cy="62.10" r="3.8" fill="none" stroke="#1a74b6" stroke-width="1.5"/>
<circle cx="623.30" cy="82.60" r="3.8" fill="none" stroke="#1a74b6" stroke-width="1.5"/>
<circle cx="571.40" cy="67.40" r="3.8" fill="none" stroke="#1a74b6" stroke-width="1.5"/>
<circle cx="571.40" cy="70.00" r="3.8" fill="none" stroke="#1a74b6" stroke-width="1.5"/>
<circle cx="571.40" cy="72.60" r="3.8" fill="none" stroke="#1a74b6" stroke-width="1.5"/>
<circle cx="571.40" cy="75.20" r="3.8" fill="none" stroke="#1a74b6" stroke-width="1.5"/>
<circle cx="571.40" cy="77.70" r="3.8" fill="none" stroke="#1a74b6" stroke-width="1.5"/>
<circle cx="571.40" cy="80.20" r="3.8" fill="none" stroke="#1a74b6" stroke-width="1.5"/>
<text x="271.90" y="228.90" font-size="6.9" text-anchor="start" fill="#555" font-weight="normal"  stroke="#555" stroke-width="0.18">3</text>
<text x="340.30" y="201.70" font-size="6.9" text-anchor="start" fill="#555" font-weight="normal"  stroke="#555" stroke-width="0.18">39</text>
<text x="399.70" y="225.00" font-size="6.9" text-anchor="start" fill="#555" font-weight="normal"  stroke="#555" stroke-width="0.18">40</text>
<text x="385.00" y="137.90" font-size="6.9" text-anchor="start" fill="#555" font-weight="normal"  stroke="#555" stroke-width="0.18">41</text>
<text x="419.00" y="131.00" font-size="6.9" text-anchor="start" fill="#555" font-weight="normal"  stroke="#555" stroke-width="0.18">22</text>
<text x="417.80" y="97.20" font-size="6.9" text-anchor="start" fill="#555" font-weight="normal"  stroke="#555" stroke-width="0.18">43</text>
<text x="435.70" y="89.80" font-size="6.9" text-anchor="start" fill="#555" font-weight="normal"  stroke="#555" stroke-width="0.18">44</text>
<text x="454.30" y="73.70" font-size="6.9" text-anchor="start" fill="#555" font-weight="normal"  stroke="#555" stroke-width="0.18">45</text>
<text x="437.30" y="114.40" font-size="6.9" text-anchor="start" fill="#555" font-weight="normal"  stroke="#555" stroke-width="0.18">47</text>
<text x="454.70" y="116.20" font-size="6.9" text-anchor="start" fill="#555" font-weight="normal"  stroke="#555" stroke-width="0.18">42</text>
<text x="436.30" y="177.50" font-size="6.9" text-anchor="start" fill="#555" font-weight="normal"  stroke="#555" stroke-width="0.18">20</text>
<text x="473.00" y="77.80" font-size="6.9" text-anchor="start" fill="#555" font-weight="normal"  stroke="#555" stroke-width="0.18">47</text>
<text x="471.20" y="97.60" font-size="6.9" text-anchor="start" fill="#555" font-weight="normal"  stroke="#555" stroke-width="0.18">55</text>
<text x="471.60" y="111.00" font-size="6.9" text-anchor="start" fill="#555" font-weight="normal"  stroke="#555" stroke-width="0.18">47</text>
<text x="470.00" y="130.00" font-size="6.9" text-anchor="start" fill="#555" font-weight="normal"  stroke="#555" stroke-width="0.18">56</text>
<text x="468.20" y="155.60" font-size="6.9" text-anchor="start" fill="#555" font-weight="normal"  stroke="#555" stroke-width="0.18">54</text>
<text x="468.20" y="161.90" font-size="6.9" text-anchor="start" fill="#555" font-weight="normal"  stroke="#555" stroke-width="0.18">53</text>
<text x="468.20" y="169.80" font-size="6.9" text-anchor="start" fill="#555" font-weight="normal"  stroke="#555" stroke-width="0.18">52</text>
<text x="489.00" y="53.40" font-size="6.9" text-anchor="start" fill="#555" font-weight="normal"  stroke="#555" stroke-width="0.18">14</text>
<text x="487.80" y="61.20" font-size="6.9" text-anchor="start" fill="#555" font-weight="normal"  stroke="#555" stroke-width="0.18">46</text>
<text x="487.80" y="68.60" font-size="6.9" text-anchor="start" fill="#555" font-weight="normal"  stroke="#555" stroke-width="0.18">46</text>
<text x="489.70" y="80.00" font-size="6.9" text-anchor="start" fill="#555" font-weight="normal"  stroke="#555" stroke-width="0.18">50</text>
<text x="491.30" y="99.80" font-size="6.9" text-anchor="start" fill="#555" font-weight="normal"  stroke="#555" stroke-width="0.18">49</text>
<text x="488.00" y="114.30" font-size="6.9" text-anchor="start" fill="#555" font-weight="normal"  stroke="#555" stroke-width="0.18">23</text>
<text x="488.00" y="121.10" font-size="6.9" text-anchor="start" fill="#555" font-weight="normal"  stroke="#555" stroke-width="0.18">21</text>
<text x="508.40" y="62.50" font-size="6.9" text-anchor="start" fill="#555" font-weight="normal"  stroke="#555" stroke-width="0.18">37</text>
<text x="505.60" y="73.90" font-size="6.9" text-anchor="start" fill="#555" font-weight="normal"  stroke="#555" stroke-width="0.18">69</text>
<text x="505.60" y="79.80" font-size="6.9" text-anchor="start" fill="#555" font-weight="normal"  stroke="#555" stroke-width="0.18">66</text>
<text x="505.60" y="86.80" font-size="6.9" text-anchor="start" fill="#555" font-weight="normal"  stroke="#555" stroke-width="0.18">68</text>
<text x="505.60" y="92.60" font-size="6.9" text-anchor="start" fill="#555" font-weight="normal"  stroke="#555" stroke-width="0.18">67</text>
<text x="505.60" y="102.00" font-size="6.9" text-anchor="start" fill="#555" font-weight="normal"  stroke="#555" stroke-width="0.18">51</text>
<text x="506.30" y="127.30" font-size="6.9" text-anchor="start" fill="#555" font-weight="normal"  stroke="#555" stroke-width="0.18">70</text>
<text x="507.20" y="137.20" font-size="6.9" text-anchor="start" fill="#555" font-weight="normal"  stroke="#555" stroke-width="0.18">57</text>
<text x="525.40" y="67.80" font-size="6.9" text-anchor="start" fill="#555" font-weight="normal"  stroke="#555" stroke-width="0.18">15</text>
<text x="524.10" y="56.50" font-size="6.9" text-anchor="start" fill="#555" font-weight="normal"  stroke="#555" stroke-width="0.18">16</text>
<text x="527.80" y="87.40" font-size="6.9" text-anchor="start" fill="#555" font-weight="normal"  stroke="#555" stroke-width="0.18">71</text>
<text x="523.50" y="102.00" font-size="6.9" text-anchor="start" fill="#555" font-weight="normal"  stroke="#555" stroke-width="0.18">59</text>
<text x="523.50" y="111.00" font-size="6.9" text-anchor="start" fill="#555" font-weight="normal"  stroke="#555" stroke-width="0.18">58</text>
<text x="541.40" y="93.80" font-size="6.9" text-anchor="start" fill="#555" font-weight="normal"  stroke="#555" stroke-width="0.18">60</text>
<text x="542.50" y="116.10" font-size="6.9" text-anchor="start" fill="#555" font-weight="normal"  stroke="#555" stroke-width="0.18">60</text>
<text x="564.80" y="60.70" font-size="6.9" text-anchor="start" fill="#555" font-weight="normal"  stroke="#555" stroke-width="0.18">38</text>
<text x="559.20" y="65.30" font-size="6.9" text-anchor="start" fill="#555" font-weight="normal"  stroke="#555" stroke-width="0.18">73</text>
<text x="559.20" y="71.60" font-size="6.9" text-anchor="start" fill="#555" font-weight="normal"  stroke="#555" stroke-width="0.18">72</text>
<text x="559.20" y="77.20" font-size="6.9" text-anchor="start" fill="#555" font-weight="normal"  stroke="#555" stroke-width="0.18">62</text>
<text x="559.20" y="83.90" font-size="6.9" text-anchor="start" fill="#555" font-weight="normal"  stroke="#555" stroke-width="0.18">30</text>
<text x="559.20" y="89.50" font-size="6.9" text-anchor="start" fill="#555" font-weight="normal"  stroke="#555" stroke-width="0.18">61</text>
<text x="578.00" y="53.70" font-size="6.9" text-anchor="start" fill="#555" font-weight="normal"  stroke="#555" stroke-width="0.18">17</text>
<text x="578.00" y="63.80" font-size="6.9" text-anchor="start" fill="#555" font-weight="normal"  stroke="#555" stroke-width="0.18">13</text>
<text x="595.00" y="56.40" font-size="6.9" text-anchor="start" fill="#555" font-weight="normal"  stroke="#555" stroke-width="0.18">10</text>
<text x="592.10" y="69.30" font-size="6.9" text-anchor="start" fill="#555" font-weight="normal"  stroke="#555" stroke-width="0.18">74</text>
<text x="592.40" y="77.70" font-size="6.9" text-anchor="start" fill="#555" font-weight="normal"  stroke="#555" stroke-width="0.18">19</text>
</svg>
</body></html>
